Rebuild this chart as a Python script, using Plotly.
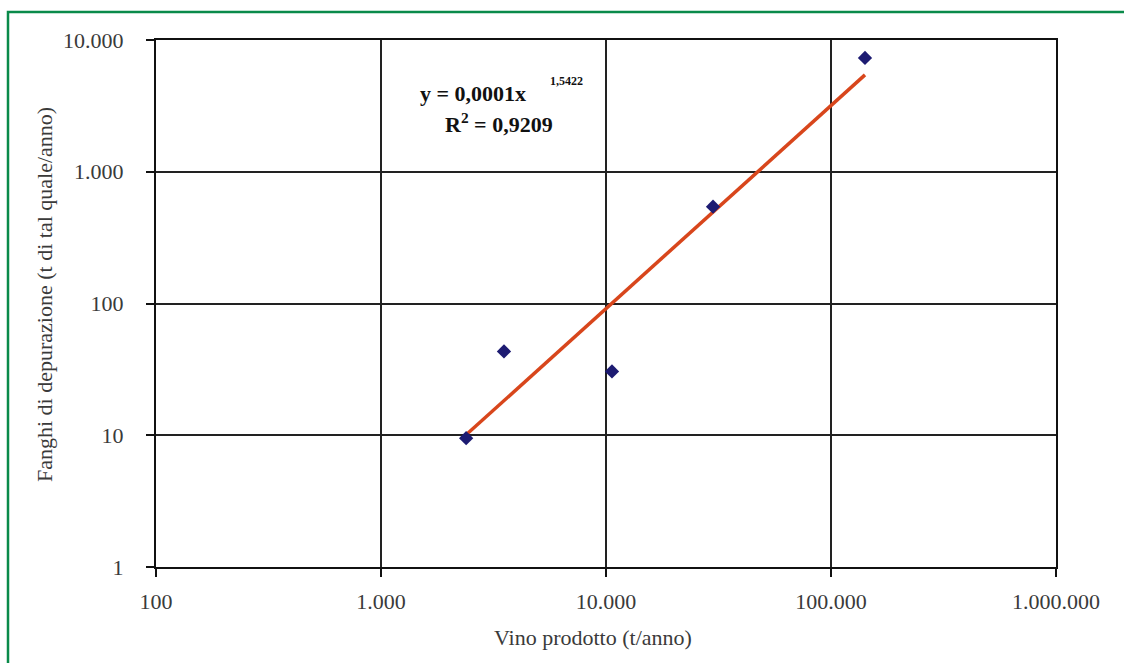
import numpy as np
import plotly.graph_objects as go

# Wine produced (t/year) vs. treatment sludge (t as-is/year)
vino_prodotto = [2390, 3520, 10630, 29900, 141600]
fanghi = [9.5, 43.3, 30.5, 543, 7310]

x_tickvals = [100, 1000, 10000, 100000, 1000000]
x_ticktext = ["100", "1.000", "10.000", "100.000", "1.000.000"]
y_tickvals = [1, 10, 100, 1000, 10000]
y_ticktext = ["1", "10", "100", "1.000", "10.000"]

equation_base = "y = 0,0001x"
equation_exp = "1,5422"
r2_text = "R<sup>2</sup> = 0,9209"

# Power trend line: least squares on log10 values
lx = np.log10(vino_prodotto)
ly = np.log10(fanghi)
slope, intercept = np.polyfit(lx, ly, 1)
trend_x = np.array([min(vino_prodotto), max(vino_prodotto)])
trend_y = 10 ** intercept * trend_x ** slope

FONT = "Liberation Serif"
TXT = "#3a3a3a"

fig = go.Figure()
fig.add_trace(go.Scatter(
    x=trend_x, y=trend_y, mode="lines",
    line=dict(color="#d8461c", width=3.5),
    showlegend=False, hoverinfo="skip",
))
fig.add_trace(go.Scatter(
    x=vino_prodotto, y=fanghi, mode="markers",
    marker=dict(symbol="diamond", size=11, color="#1d1b72"),
    showlegend=False,
))

L, R, T, B = 156, 1056, 40, 567
W, H = 1124, 663

def px_x(p):
    return (p - L) / (R - L)

def px_y(p):
    return (B - p) / (B - T)

axis_common = dict(
    type="log",
    showline=True, linecolor="#111", linewidth=2.2, mirror=True,
    showgrid=True, gridcolor="#222", gridwidth=1.8,
    ticks="outside", ticklen=8, tickwidth=2, tickcolor="#111",
    tickfont=dict(family=FONT, size=22, color=TXT),
    zeroline=False,
)

fig.update_xaxes(range=[2, 6], tickvals=x_tickvals, ticktext=x_ticktext,
                 ticklabelstandoff=5, **axis_common)
fig.update_yaxes(range=[0, 4], tickvals=y_tickvals, ticktext=y_ticktext,
                 ticklabelstandoff=18, **axis_common)

fig.update_layout(
    width=W, height=H,
    margin=dict(l=L, r=W - R, t=T, b=H - B),
    paper_bgcolor="white", plot_bgcolor="white",
    font=dict(family=FONT, color=TXT),
    annotations=[
        dict(text="<b>" + equation_base + "</b>", x=px_x(528), y=px_y(93),
             xref="paper", yref="paper", showarrow=False,
             font=dict(family=FONT, size=22, color="#111"),
             xanchor="right", yanchor="middle"),
        dict(text="<b>" + equation_exp + "</b>", x=px_x(548), y=px_y(81),
             xref="paper", yref="paper", showarrow=False,
             font=dict(family=FONT, size=12, color="#111"),
             xanchor="left", yanchor="middle"),
        dict(text="<b>" + r2_text + "</b>", x=px_x(499), y=px_y(123),
             xref="paper", yref="paper", showarrow=False,
             font=dict(family=FONT, size=22, color="#111"),
             xanchor="center", yanchor="middle"),
        dict(text="Vino prodotto (t/anno)", x=px_x(593), y=px_y(637),
             xref="paper", yref="paper", showarrow=False,
             font=dict(family=FONT, size=22, color=TXT),
             xanchor="center", yanchor="middle"),
        dict(text="Fanghi di depurazione (t di tal quale/anno)", x=px_x(44), y=px_y(295),
             xref="paper", yref="paper", textangle=-90, showarrow=False,
             font=dict(family=FONT, size=22, color=TXT),
             xanchor="center", yanchor="middle"),
    ],
    shapes=[
        dict(type="rect", xref="paper", yref="paper",
             x0=px_x(8), x1=px_x(1140), y0=px_y(690), y1=px_y(12),
             line=dict(color="#0a8a4a", width=2.5), fillcolor="rgba(0,0,0,0)", layer="below"),
    ],
)

fig.write_html("out.html")
